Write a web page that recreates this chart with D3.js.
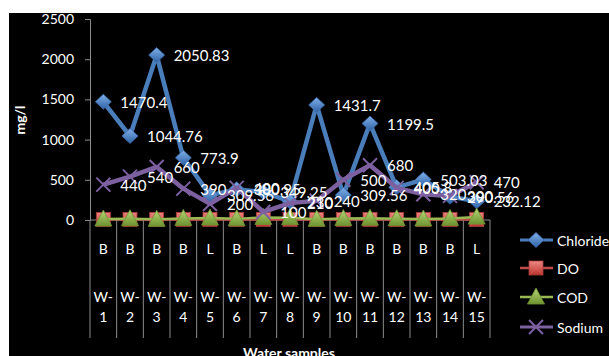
<!DOCTYPE html>
<html>
<head>
<meta charset="utf-8">
<script src="https://cdn.jsdelivr.net/npm/d3@7/dist/d3.min.js"></script>
<style>
  html, body { margin: 0; padding: 0; background: #fff; }
  svg { display: block; font-family: Lato, "Open Sans", sans-serif; }
</style>
</head>
<body>
<svg id="chart" width="609" height="356"></svg>
<script>
// Sample identifiers and their source type (B = borewell, L = lake)
const samples = ["W-1","W-2","W-3","W-4","W-5","W-6","W-7","W-8","W-9","W-10","W-11","W-12","W-13","W-14","W-15"];
const sourceType = ["B","B","B","B","L","B","L","L","B","B","B","B","B","B","L"];

// Measured parameters, mg/l
const chloride = [1470.4, 1044.76, 2050.83, 773.9, 309.56, 380.95, 349.25, 230, 1431.7, 309.56, 1199.5, 405.8, 503.03, 290.56, 232.12];
const dissolvedOxygen = [6.8, 7.2, 6.5, 7.0, 6.2, 6.9, 5.8, 6.4, 7.1, 6.6, 7.3, 6.0, 6.7, 6.3, 5.9];
const cod = [12, 16, 8, 20, 24, 14, 32, 28, 10, 18, 22, 16, 12, 20, 36];
const sodium = [440, 540, 660, 390, 200, 400, 100, 210, 240, 500, 680, 400, 320, 300, 470];

const yTicks = [0, 500, 1000, 1500, 2000, 2500];

const series = [
  { name: "Chloride", values: chloride, color: "#4A7EBB", width: 4.5, marker: "diamond", labels: true },
  { name: "DO", values: dissolvedOxygen, color: "#BE4B48", width: 2.5, marker: "square", labels: false },
  { name: "COD", values: cod, color: "#98B954", width: 2.5, marker: "triangle", labels: false },
  { name: "Sodium", values: sodium, color: "#7D60A0", width: 4.5, marker: "cross", labels: true }
];

const svg = d3.select("#chart");
const W = 609, H = 356;

// Chart area background
svg.append("rect").attr("width", W).attr("height", H).attr("fill", "#fff");
svg.append("rect").attr("x", 9).attr("y", 13).attr("width", W - 9).attr("height", H - 13).attr("fill", "#000");

// Gradients for the bevelled markers
const defs = svg.append("defs");
function grad(id, top, bottom) {
  const g = defs.append("linearGradient").attr("id", id)
    .attr("x1", 0).attr("y1", 0).attr("x2", 0).attr("y2", 1);
  g.append("stop").attr("offset", "0%").attr("stop-color", top);
  g.append("stop").attr("offset", "100%").attr("stop-color", bottom);
}
grad("g-diamond", "#7fb0ea", "#2f62a6");
grad("g-square", "#f08a86", "#b8322e");
grad("g-triangle", "#b6d678", "#6f9330");

const x = d3.scaleBand().domain(samples).range([90, 490]).paddingInner(0).paddingOuter(0);
const y = d3.scaleLinear().domain([0, 2500]).range([220, 19]);
const cx = d => x(d) + x.bandwidth() / 2;

// Y axis
const yAxis = svg.append("g").attr("transform", "translate(90,0)")
  .call(d3.axisLeft(y).tickValues(yTicks).tickSize(5).tickPadding(11).tickFormat(d3.format("d")));
yAxis.select(".domain").attr("stroke", "#8c8c8c");
yAxis.selectAll(".tick line").attr("stroke", "#8c8c8c");
yAxis.selectAll(".tick text").attr("fill", "#fff").attr("font-size", 14).attr("font-family", "Lato, sans-serif");

// Category axis: baseline plus group dividers
svg.append("line").attr("x1", 90).attr("x2", 490).attr("y1", y(0)).attr("y2", y(0)).attr("stroke", "#8c8c8c");
const bounds = samples.map(s => x(s)).concat([x(samples[samples.length - 1]) + x.bandwidth()]);
svg.append("g").selectAll("line").data(bounds).join("line")
  .attr("x1", d => d).attr("x2", d => d).attr("y1", y(0)).attr("y2", 338)
  .attr("stroke", "#8c8c8c").attr("stroke-width", 1);

const catG = svg.append("g").attr("fill", "#fff").attr("font-size", 14).attr("text-anchor", "middle");
catG.selectAll("text.type").data(samples).join("text").attr("class", "type")
  .attr("x", d => cx(d)).attr("y", 254).text((d, i) => sourceType[i]);
catG.selectAll("text.id1").data(samples).join("text").attr("class", "id1")
  .attr("x", d => cx(d)).attr("y", 302).text(d => d.split("-")[0] + "-");
catG.selectAll("text.id2").data(samples).join("text").attr("class", "id2")
  .attr("x", d => cx(d)).attr("y", 322).text(d => d.split("-")[1]);

// Axis titles
svg.append("text").attr("transform", "translate(25,120) rotate(-90)")
  .attr("text-anchor", "middle").attr("fill", "#fff").attr("font-size", 14).attr("font-weight", "bold").text("mg/l");
svg.append("text").attr("x", 289).attr("y", 358)
  .attr("text-anchor", "middle").attr("fill", "#fff").attr("font-size", 14).attr("font-weight", "bold").text("Water samples");

// Marker drawing
function drawMarker(g, type, color) {
  if (type === "diamond") {
    g.append("path").attr("d", "M0,-7.5L8,0L0,7.5L-8,0Z").attr("fill", "url(#g-diamond)").attr("stroke", "#3a6aa8").attr("stroke-width", 0.8);
  } else if (type === "square") {
    g.append("rect").attr("x", -7).attr("y", -7).attr("width", 14).attr("height", 14)
      .attr("fill", "url(#g-square)").attr("stroke", "#a53a36").attr("stroke-width", 0.8);
    g.append("path").attr("d", "M-7,-7L7,7M7,-7L-7,7").attr("stroke", "#e5605b").attr("stroke-width", 0.8).attr("opacity", 0.7);
  } else if (type === "triangle") {
    g.append("path").attr("d", "M0,-9L8.5,7L-8.5,7Z").attr("fill", "url(#g-triangle)").attr("stroke", "#6f9330").attr("stroke-width", 0.8);
  } else {
    g.append("path").attr("d", "M-7,-7L7,7M7,-7L-7,7").attr("stroke", color).attr("stroke-width", 2);
  }
}

const line = d3.line().x((d, i) => cx(samples[i])).y(d => y(d));

series.forEach(s => {
  const g = svg.append("g");
  g.append("path").datum(s.values).attr("d", line)
    .attr("fill", "none").attr("stroke", s.color).attr("stroke-width", s.width).attr("stroke-linejoin", "round");
  s.values.forEach((v, i) => {
    const m = g.append("g").attr("transform", `translate(${cx(samples[i])},${y(v)})`);
    drawMarker(m, s.marker, s.color);
  });
});

// Value labels
const labelG = svg.append("g").attr("fill", "#fff").attr("font-size", 15);
series.filter(s => s.labels).forEach(s => {
  s.values.forEach((v, i) => {
    labelG.append("text").attr("x", cx(samples[i]) + 17).attr("y", y(v))
      .attr("dominant-baseline", "central").text(v);
  });
});

// Legend
const legendY = [240, 268, 297, 327];
const lg = svg.append("g");
series.forEach((s, k) => {
  const row = lg.append("g").attr("transform", `translate(0,${legendY[k]})`);
  row.append("line").attr("x1", 520).attr("x2", 553).attr("y1", 0).attr("y2", 0)
    .attr("stroke", s.color).attr("stroke-width", s.marker === "cross" || s.marker === "diamond" ? 3 : 2.5);
  drawMarker(row.append("g").attr("transform", "translate(536,0)"), s.marker, s.color);
  row.append("text").attr("x", 557).attr("y", 0).attr("dominant-baseline", "central")
    .attr("fill", "#fff").attr("font-size", 14).text(s.name);
});
</script>
</body>
</html>
